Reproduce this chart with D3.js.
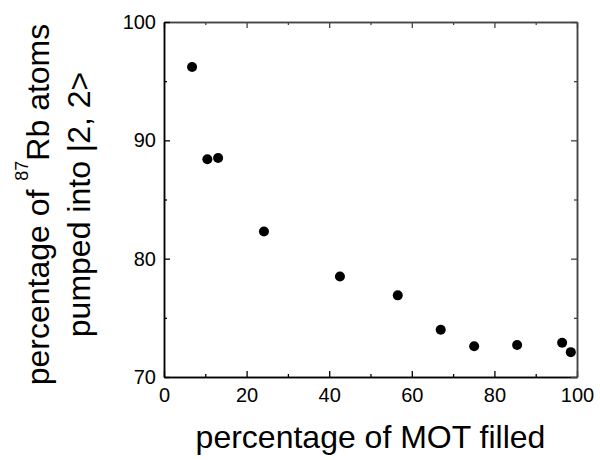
<!DOCTYPE html>
<html>
<head>
<meta charset="utf-8">
<script src="https://cdn.jsdelivr.net/npm/d3@7"></script>
<style>
  body { margin: 0; background: #fff; }
  svg text { font-family: "Liberation Sans", Arial, Helvetica, sans-serif; fill: #000; }
</style>
</head>
<body>
<div id="viz"></div>
<script>
(function () {
  'use strict';

  // data
  var motFilled = [6.8, 10.5, 13.1, 24.2, 42.6, 56.6, 67.0, 75.1, 85.5, 96.4, 98.5];
  var pumped = [96.2, 88.4, 88.5, 82.3, 78.5, 76.9, 74.0, 72.6, 72.7, 72.9, 72.1];
  var xMajor = [0, 20, 40, 60, 80, 100];
  var xMinor = [10, 30, 50, 70, 90];
  var yMajor = [70, 80, 90, 100];
  var yMinor = [75, 85, 95];

  var W = 600, H = 460;
  var margin = { top: 22, right: 23, bottom: 83, left: 164 };
  var w = W - margin.left - margin.right;
  var h = H - margin.top - margin.bottom;

  var svg = d3.select('#viz')
  .append('svg')
  .attr('width', W)
  .attr('height', H);

  var g = svg.append('g')
  .attr('transform', 'translate(' + margin.left + ',' + margin.top + ')');

  var x = d3.scaleLinear().domain([0, 100]).range([0, w]);
  var y = d3.scaleLinear().domain([70, 100]).range([h, 0]);

  // helper: draws an axis with inward ticks
  function drawAxis(axis, tr, labels, color) {
    var a = g.append('g')
    .attr('transform', tr)
    .call(axis);
    a.select('.domain').attr('stroke', color).attr('stroke-width', 1.5);
    a.selectAll('.tick line').attr('stroke', color).attr('stroke-width', 1.3);
    if (!labels) a.selectAll('.tick text').remove();
    return a;
  }

  // bottom
  var bx = drawAxis(d3.axisBottom(x).tickValues(xMajor).tickSizeInner(-6).tickSizeOuter(0).tickPadding(11),
    'translate(0,' + h + ')', true, '#000');
  bx.selectAll('.tick text').attr('font-size', 20);
  drawAxis(d3.axisBottom(x).tickValues(xMinor).tickSizeInner(-3).tickSizeOuter(0),
    'translate(0,' + h + ')', false, '#000');

  // top
  drawAxis(d3.axisTop(x).tickValues(xMajor).tickSizeInner(-6).tickSizeOuter(0), 'translate(0,0)', false, '#444');
  drawAxis(d3.axisTop(x).tickValues(xMinor).tickSizeInner(-3).tickSizeOuter(0), 'translate(0,0)', false, '#444');

  // left
  var ly = drawAxis(d3.axisLeft(y).tickValues(yMajor).tickSizeInner(-6).tickSizeOuter(0).tickPadding(8),
    'translate(0,0)', true, '#000');
  ly.selectAll('.tick text').attr('font-size', 20);
  drawAxis(d3.axisLeft(y).tickValues(yMinor).tickSizeInner(-3).tickSizeOuter(0), 'translate(0,0)', false, '#000');

  // right
  drawAxis(d3.axisRight(y).tickValues(yMajor).tickSizeInner(-6).tickSizeOuter(0), 'translate(' + w + ',0)', false, '#444');
  drawAxis(d3.axisRight(y).tickValues(yMinor).tickSizeInner(-3).tickSizeOuter(0), 'translate(' + w + ',0)', false, '#444');

  // points
  g.selectAll('circle.pt')
  .data(motFilled)
  .enter()
  .append('circle')
  .attr('class', 'pt')
  .attr('cx', function (d) { return x(d); })
  .attr('cy', function (d, i) { return y(pumped[i]); })
  .attr('r', 5)
  .attr('fill', '#000');

  // x title
  svg.append('text')
  .attr('x', margin.left + w / 2)
  .attr('y', 448)
  .attr('text-anchor', 'middle')
  .attr('font-size', 32)
  .text('percentage of MOT filled');

  // y title, two lines
  var yt = svg.append('g')
  .attr('transform', 'translate(0,' + (margin.top + h / 2 + 5) + ') rotate(-90)');

  var l1 = yt.append('text')
  .attr('x', 0)
  .attr('y', 49)
  .attr('text-anchor', 'middle')
  .attr('font-size', 32);
  l1.append('tspan').text('percentage of ');
  l1.append('tspan').attr('font-size', 18).attr('dy', -21).text('87');
  l1.append('tspan').attr('dy', 21).text('Rb atoms');

  yt.append('text')
  .attr('x', 0)
  .attr('y', 90)
  .attr('text-anchor', 'middle')
  .attr('font-size', 32)
  .text('pumped into |2, 2>');
})();
</script>
</body>
</html>
